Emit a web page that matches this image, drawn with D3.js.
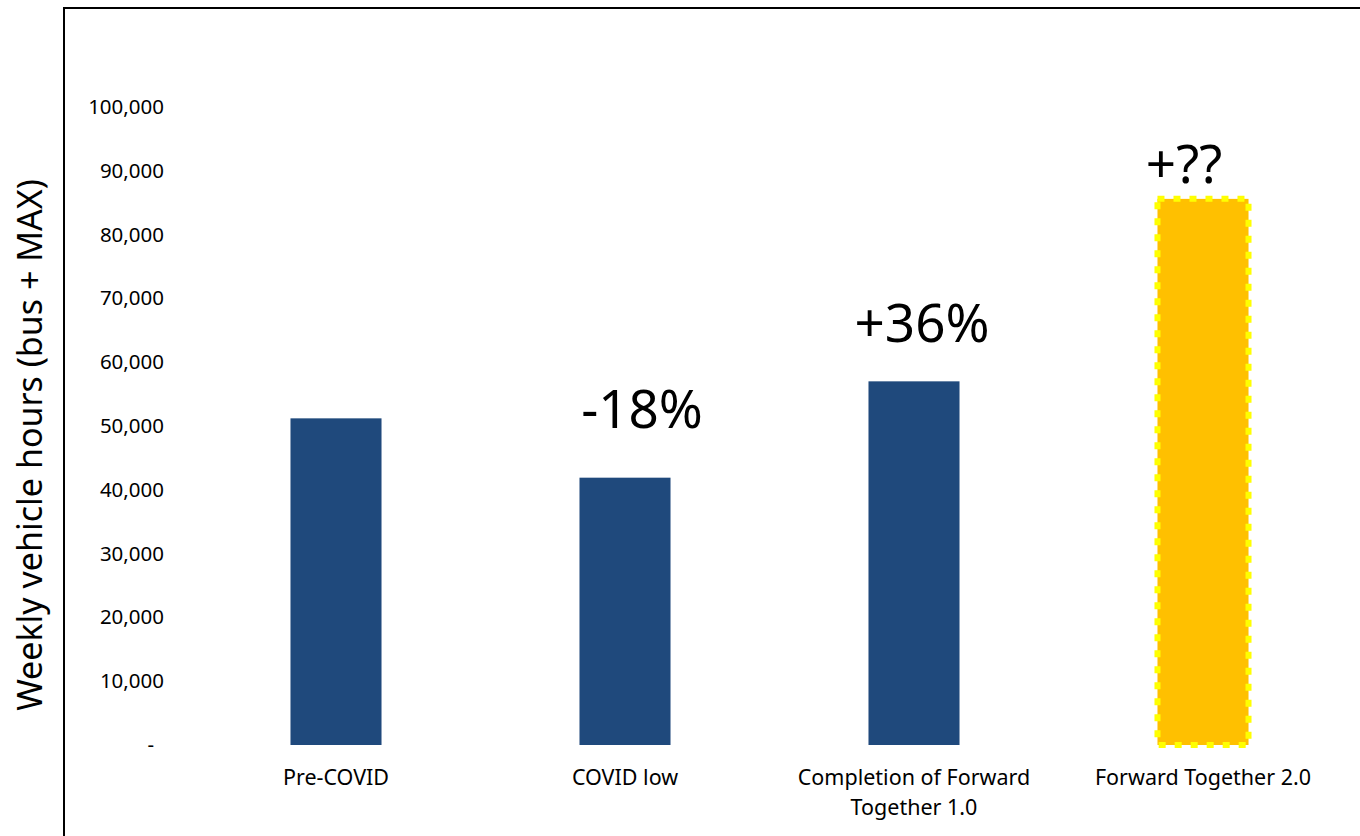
<!DOCTYPE html>
<html>
<head>
<meta charset="utf-8">
<script src="https://cdn.jsdelivr.net/npm/d3@7"></script>
<style>
  body { margin: 0; background: #fff; }
  svg { font-family: "Noto Sans", sans-serif; }
</style>
</head>
<body>
<svg class="chart" width="1360" height="836"></svg>
<script>
// categories and values
const categories = ["Pre-COVID", "COVID low", "Completion of Forward\nTogether 1.0", "Forward Together 2.0"];
const hours = [51200, 41900, 57000, 85600];
const changes = ["", "-18%", "+36%", "+??"];
const projected = [false, false, false, true];
const yTicks = [0, 10000, 20000, 30000, 40000, 50000, 60000, 70000, 80000, 90000, 100000];

// where each change label sits relative to the top centre of its bar
const labelShift = [[0, 0], [17, -50], [8, -39], [-19, -16]];

const svg = d3.select(".chart");

// frame round the chart area
svg.append("path")
  .attr("d", "M64,836 L64,8 L1360,8")
  .attr("fill", "none")
  .attr("stroke", "#000")
  .attr("stroke-width", 2);

const x = d3.scaleBand()
  .domain(categories)
  .range([191.5, 1347.5])
  .paddingInner(0.685)
  .paddingOuter(0.3425);

const y = d3.scaleLinear()
  .domain([0, 100000])
  .range([745, 107]);

// y axis, labels only
const fmt = d3.format(",");
const yAxis = d3.axisLeft(y)
  .tickValues(yTicks)
  .tickSize(0)
  .tickPadding(0)
  .tickFormat(d => d === 0 ? "-" : fmt(d));

svg.append("g")
  .attr("class", "yaxis")
  .attr("transform", "translate(164,0)")
  .call(yAxis)
  .call(g => g.select(".domain").remove())
  .call(g => g.selectAll("text")
    .attr("font-size", 20.5)
    .attr("fill", "#000")
    .attr("font-family", "Noto Sans")
    .attr("dx", d => d === 0 ? -10 : 0));

// y axis title
svg.append("text")
  .attr("transform", "translate(29,445) rotate(-90)")
  .attr("text-anchor", "middle")
  .attr("dominant-baseline", "central")
  .attr("font-size", 34)
  .text("Weekly vehicle hours (bus + MAX)");

// bars
svg.append("g").attr("class", "bars")
  .selectAll("rect")
  .data(categories)
  .enter().append("rect")
  .attr("x", d => x(d))
  .attr("width", x.bandwidth())
  .attr("y", (d, i) => y(hours[i]))
  .attr("height", (d, i) => y(0) - y(hours[i]))
  .attr("fill", (d, i) => projected[i] ? "#ffc000" : "#1f497c")
  .attr("stroke", (d, i) => projected[i] ? "#ffff00" : "none")
  .attr("stroke-width", 6)
  .attr("stroke-dasharray", "7 9");

// x labels
const xl = svg.append("g").attr("class", "xlabels")
  .selectAll("text")
  .data(categories)
  .enter().append("text")
  .attr("x", d => x(d) + x.bandwidth() / 2)
  .attr("y", 785)
  .attr("text-anchor", "middle")
  .attr("font-size", 21.5);

xl.selectAll("tspan")
  .data(d => d.split("\n"))
  .enter().append("tspan")
  .attr("x", function () { return this.parentNode.getAttribute("x"); })
  .attr("dy", (d, i) => i === 0 ? 0 : 30)
  .text(d => d);

// change annotations above bars
svg.append("g").attr("class", "changes")
  .selectAll("text")
  .data(categories)
  .enter().append("text")
  .attr("x", (d, i) => x(d) + x.bandwidth() / 2 + labelShift[i][0])
  .attr("y", (d, i) => y(hours[i]) + labelShift[i][1])
  .attr("text-anchor", "middle")
  .attr("font-size", 53)
  .text((d, i) => changes[i]);
</script>
</body>
</html>
